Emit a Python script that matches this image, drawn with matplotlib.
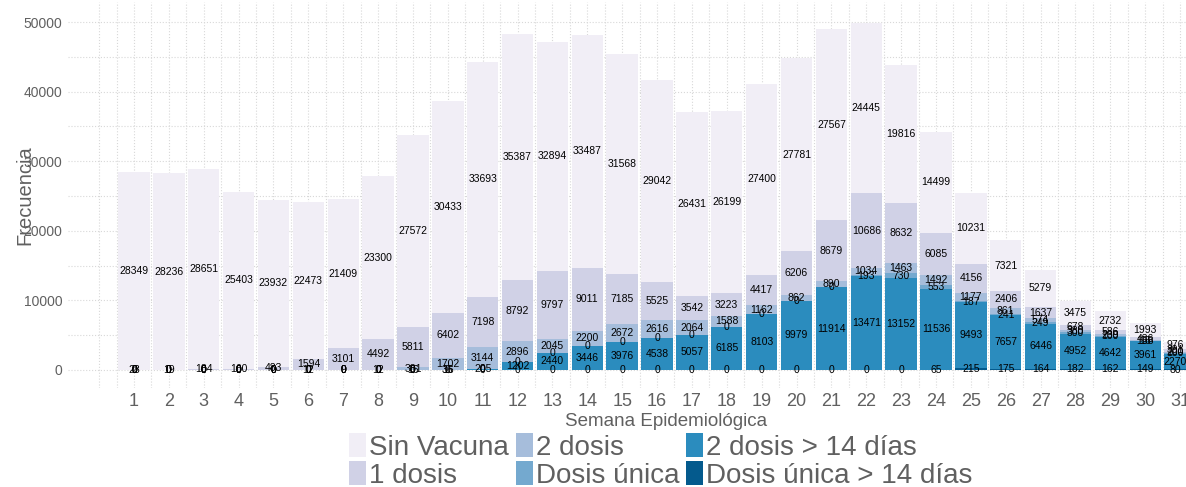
import numpy as np
import matplotlib
matplotlib.use('Agg')
import matplotlib.pyplot as plt
from matplotlib.ticker import MultipleLocator

plt.rcParams['font.family'] = ['Liberation Sans', 'DejaVu Sans']

# Datos por semana epidemiologica (1 a 31)
semanas = np.arange(1, 32)
sin_vacuna = [28349, 28236, 28651, 25403, 23932, 22473, 21409, 23300, 27572, 30433,
              33693, 35387, 32894, 33487, 31568, 29042, 26431, 26199, 27400, 27781,
              27567, 24445, 19816, 14499, 10231, 7321, 5279, 3475, 2732, 1993, 976]
una_dosis = [28, 19, 184, 160, 483, 1594, 3101, 4492, 5811, 6402,
             7198, 8792, 9797, 9011, 7185, 5525, 3542, 3223, 4417, 6206,
             8679, 10686, 8632, 6085, 4156, 2406, 1637, 678, 586, 436, 391]
dos_dosis = [0, 0, 0, 0, 0, 12, 9, 12, 381, 1702,
             3144, 2896, 2045, 2200, 2672, 2616, 2064, 1588, 1162, 862,
             890, 1034, 1463, 1492, 1177, 861, 574, 380, 239, 158, 200]
dosis_unica = [0, 0, 0, 0, 0, 0, 0, 0, 16, 36,
               0, 0, 0, 0, 0, 0, 0, 0, 0, 0,
               0, 193, 730, 553, 187, 241, 249, 300, 100, 16, 100]
dos_dosis_14 = [0, 0, 0, 0, 0, 0, 0, 0, 0, 16,
                205, 1202, 2440, 3446, 3976, 4538, 5057, 6185, 8103, 9979,
                11914, 13471, 13152, 11536, 9493, 7657, 6446, 4952, 4642, 3961, 2270]
unica_14 = [0, 0, 0, 0, 0, 0, 0, 0, 0, 0,
            0, 0, 0, 0, 0, 0, 0, 0, 0, 0,
            0, 0, 0, 65, 215, 175, 164, 182, 162, 149, 80]

categorias = ['Sin Vacuna', '1 dosis', '2 dosis', 'Dosis única',
              '2 dosis > 14 días', 'Dosis única > 14 días']
series = [sin_vacuna, una_dosis, dos_dosis, dosis_unica, dos_dosis_14, unica_14]
colores = ['#f1eef6', '#d0d1e6', '#a6bddb', '#74a9cf', '#2b8cbe', '#045a8d']

gris = '#606060'

W, H = 1186, 487
fig = plt.figure(figsize=(W / 100, H / 100), dpi=100)
ax = fig.add_axes([68 / W, 99.5 / H, (W - 68) / W, 386 / H])

# apilado de abajo hacia arriba
base = np.zeros(len(semanas))
barras = {}
for i in range(len(series) - 1, -1, -1):
    vals = np.array(series[i], dtype=float)
    b = ax.bar(semanas, vals, 0.9, bottom=base, color=colores[i],
               label=categorias[i], zorder=2, linewidth=0)
    ax.bar_label(b, labels=[str(v) for v in series[i]], label_type='center',
                 fontsize=7.5, color='black', zorder=3)
    barras[categorias[i]] = b
    base += vals

ax.set_xticks(semanas)
ax.set_xticks(np.arange(0, 31.6, 0.5), minor=True)
ax.yaxis.set_major_locator(MultipleLocator(10000))
ax.yaxis.set_minor_locator(MultipleLocator(5000))
# limites despues de los ticks (set_xticks los ensancha)
ax.set_xlim(-0.893, 31.17)
ax.set_ylim(-2521, 52950)

ax.grid(True, which='both', color='#d8d8d8', linestyle=':', linewidth=0.8, zorder=0)
ax.tick_params(which='both', length=0)
ax.tick_params(axis='x', labelsize=13, labelcolor=gris, pad=4)
ax.tick_params(axis='y', labelsize=10, labelcolor=gris, pad=4)
for s in ax.spines.values():
    s.set_visible(False)

ax.set_xlabel('Semana Epidemiológica', fontsize=13.5, color=gris)
ax.xaxis.set_label_coords((666 - 68) / (W - 68), -(422 - 387.5) / 386)
ax.xaxis.label.set_va('center')
ax.set_ylabel('Frecuencia', fontsize=14.5, color=gris)
ax.yaxis.set_label_coords(-(68 - 25) / (W - 68), (387.5 - 195) / 386)
ax.yaxis.label.set_va('center')

handles = [barras[c] for c in categorias]
fig.legend(handles, categorias, ncol=3, loc='center',
           bbox_to_anchor=(661 / W, 1 - 461 / H), frameon=False, fontsize=20,
           handlelength=0.6, handleheight=0.95, handletextpad=0.12,
           columnspacing=0.25, labelspacing=0.0, borderpad=0, labelcolor=gris)

fig.savefig('out.png', dpi=100)
